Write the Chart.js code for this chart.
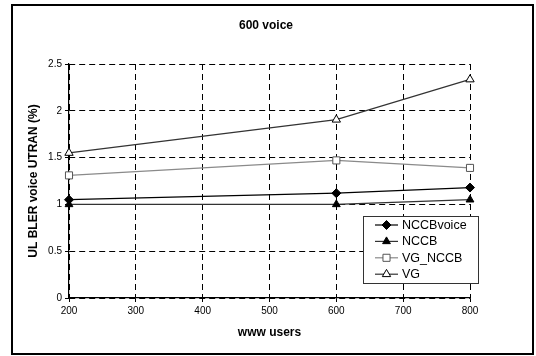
<!DOCTYPE html>
<html>
<head>
<meta charset="utf-8">
<script src="https://cdn.jsdelivr.net/npm/chart.js@4/dist/chart.umd.min.js"></script>
<style>
  html, body { margin: 0; padding: 0; background: #fff; }
  #wrap { width: 536px; height: 356px; }
</style>
</head>
<body>
<div id="wrap"><canvas id="c" width="536" height="356"></canvas></div>
<script>
// www users on the x axis
const users = [200, 600, 800];
// UL BLER voice UTRAN (%) per configuration
const nccbVoice = [1.05, 1.12, 1.18];
const nccb = [1.0, 1.0, 1.05];
const vgNccb = [1.31, 1.47, 1.39];
const vg = [1.55, 1.905, 2.335];

const seriesNames = ['NCCBvoice', 'NCCB', 'VG_NCCB', 'VG'];
const chartTitle = '600 voice';
const xTitle = 'www users';
const yTitle = 'UL BLER voice UTRAN (%)';

const FONT = '"Liberation Sans", Arial, sans-serif';

const styles = [
  { line: '#000000', marker: 'rectRot', fill: '#000000', stroke: '#000000', radius: 4.5 },
  { line: '#333333', marker: 'triangle', fill: '#000000', stroke: '#000000', radius: 4.5 },
  { line: '#8a8a8a', marker: 'rect', fill: '#ffffff', stroke: '#555555', radius: 5 },
  { line: '#333333', marker: 'triangle', fill: '#ffffff', stroke: '#000000', radius: 4.8 }
];
const seriesValues = [nccbVoice, nccb, vgNccb, vg];

const datasets = seriesValues.map((vals, i) => ({
  label: seriesNames[i],
  data: users.map((u, j) => ({ x: u, y: vals[j] })),
  borderColor: styles[i].line,
  borderWidth: 1.2,
  pointStyle: styles[i].marker,
  pointRadius: styles[i].radius,
  pointBackgroundColor: styles[i].fill,
  pointBorderColor: styles[i].stroke,
  pointBorderWidth: 1,
  tension: 0,
  clip: false
}));

// outer frame and chart title
const framePlugin = {
  id: 'frame',
  beforeDraw(chart) {
    const ctx = chart.ctx;
    ctx.save();
    ctx.fillStyle = '#fff';
    ctx.fillRect(0, 0, chart.width, chart.height);
    ctx.strokeStyle = '#000';
    ctx.lineWidth = 2;
    ctx.strokeRect(12, 5, 521, 349);
    ctx.restore();
  },
  afterDraw(chart) {
    const ctx = chart.ctx;
    ctx.save();
    ctx.fillStyle = '#000';
    ctx.font = 'bold 12px ' + FONT;
    ctx.textAlign = 'center';
    ctx.textBaseline = 'middle';
    ctx.fillText(chartTitle, 266, 26);
    ctx.restore();
  }
};

// boxed legend inside the plot area
const boxLegend = {
  id: 'boxLegend',
  afterDatasetsDraw(chart) {
    const ctx = chart.ctx;
    const bx = 363.5, by = 216.5, bw = 115, bh = 67;
    ctx.save();
    ctx.fillStyle = '#fff';
    ctx.fillRect(bx, by, bw, bh);
    ctx.strokeStyle = '#333';
    ctx.lineWidth = 1;
    ctx.strokeRect(bx, by, bw, bh);
    chart.data.datasets.forEach((ds, i) => {
      const y = 225 + i * 16.4;
      ctx.strokeStyle = styles[i].line;
      ctx.lineWidth = 1.2;
      ctx.beginPath();
      ctx.moveTo(375, y);
      ctx.lineTo(398, y);
      ctx.stroke();
      ctx.fillStyle = styles[i].fill;
      ctx.strokeStyle = styles[i].stroke;
      ctx.lineWidth = 1;
      Chart.helpers.drawPoint(ctx, {
        pointStyle: styles[i].marker,
        radius: styles[i].radius,
        rotation: 0,
        borderWidth: 1
      }, 386.5, y);
      ctx.fillStyle = '#000';
      ctx.font = '12.5px ' + FONT;
      ctx.textAlign = 'left';
      ctx.textBaseline = 'middle';
      ctx.fillText(ds.label, 402, y + 0.5);
    });
    ctx.restore();
  }
};

new Chart(document.getElementById('c'), {
  type: 'line',
  data: { datasets },
  options: {
    responsive: false,
    animation: false,
    layout: { padding: { left: 22, right: 66, top: 64, bottom: 12 } },
    plugins: {
      legend: { display: false },
      title: { display: false },
      tooltip: { enabled: false }
    },
    scales: {
      x: {
        type: 'linear',
        min: 200,
        max: 800,
        afterFit: s => { s.height = 46; },
        ticks: { stepSize: 100, color: '#000', padding: 3, font: { family: FONT, size: 10 } },
        grid: { color: '#000', lineWidth: 1, tickLength: 4, tickColor: '#000' },
        border: { display: true, color: '#000', width: 1.2, dash: [6, 4] },
        title: { display: true, text: xTitle, color: '#000', font: { family: FONT, size: 12, weight: 'bold' }, padding: { top: 4, bottom: 4 } }
      },
      y: {
        min: 0,
        max: 2.5,
        afterFit: s => { s.width = 47; },
        ticks: {
          stepSize: 0.5,
          color: '#000',
          padding: 3,
          font: { family: FONT, size: 10 },
          callback: v => String(Number(v))
        },
        grid: { color: '#000', lineWidth: 1, tickLength: 4, tickColor: '#000' },
        border: { display: true, color: '#000', width: 1.2, dash: [6, 4] },
        title: { display: true, text: yTitle, color: '#000', font: { family: FONT, size: 12, weight: 'bold' }, padding: { top: 4, bottom: 4 } }
      }
    }
  },
  plugins: [framePlugin, boxLegend]
});
</script>
</body>
</html>
